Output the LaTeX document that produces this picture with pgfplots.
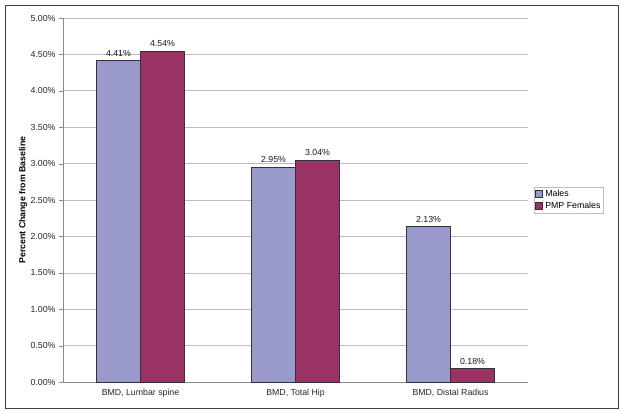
\documentclass[border=0pt]{standalone}
\usepackage{fontspec}
\setmainfont{Liberation Sans}
\usepackage{pgfplots}
\pgfplotsset{compat=1.18}
\definecolor{males}{HTML}{9999CC}
\definecolor{females}{HTML}{993366}
\definecolor{gridgray}{HTML}{BDBDBD}
\definecolor{axisgray}{HTML}{8C8C8C}
\begin{document}
\begin{tikzpicture}[x=1bp,y=1bp]
\path (0,0) rectangle (624,414);
\draw[color=black!75, line width=0.9bp] (5,6) rectangle (618,409);
\begin{axis}[
  at={(63bp,32bp)}, anchor=south west,
  scale only axis, width=465bp, height=364bp,
  xmin=-0.5, xmax=2.5, ymin=0, ymax=5,
  xtick={0,1,2},
  xticklabels={{BMD, Lumbar spine},{BMD, Total Hip},{BMD, Distal Radius}},
  minor xtick={-0.5,0.5,1.5,2.5},
  ytick={0,0.5,...,5},
  yticklabel={\pgfmathprintnumber[fixed,fixed zerofill,precision=2]{\tick}\%},
  /pgf/number format/assume math mode=true,
  tick label style={font=\fontsize{8.8}{10}\selectfont, text=black!85},
  ymajorgrids, grid style={gridgray, line width=0.6bp},
  axis line style={axisgray, line width=0.8bp},
  axis x line*=bottom, axis y line*=left,
  x axis line style={-}, y axis line style={-},
  major tick style={axisgray},
  xtick style={draw=none}, minor x tick style={axisgray, line width=0.6bp},
  minor tick length=3bp,
  ytick style={axisgray}, major tick length=4bp,
  tick align=outside,
  ylabel={\bfseries Percent Change from Baseline},
  ylabel style={font=\fontsize{8.8}{10}\selectfont, at={(axis description cs:-0.086,0.5)}, anchor=center},
  ybar=0pt, bar width=0.284,
  nodes near coords={\pgfmathprintnumber[fixed,fixed zerofill,precision=2]{\pgfplotspointmeta}\%},
  nodes near coords style={font=\fontsize{8.8}{10}\selectfont, text=black!90, /pgf/number format/assume math mode=true, yshift=1bp},
  legend style={at={(1.013,0.5)}, anchor=west, draw=gridgray, font=\fontsize{8.8}{10}\selectfont, inner sep=1.2bp, row sep=0.5bp, legend cell align=left},
  legend image code/.code={\draw[#1] (0bp,-3.5bp) rectangle (7bp,3.5bp);},
]
\addplot[fill=males, draw=black!80, line width=0.9bp, bar shift=-0.142] coordinates {(0,4.41) (1,2.95) (2,2.13)};
\addplot[fill=females, draw=black!80, line width=0.9bp, bar shift=0.142] coordinates {(0,4.54) (1,3.04) (2,0.18)};
\legend{Males, PMP Females}
\end{axis}
\end{tikzpicture}
\end{document}
